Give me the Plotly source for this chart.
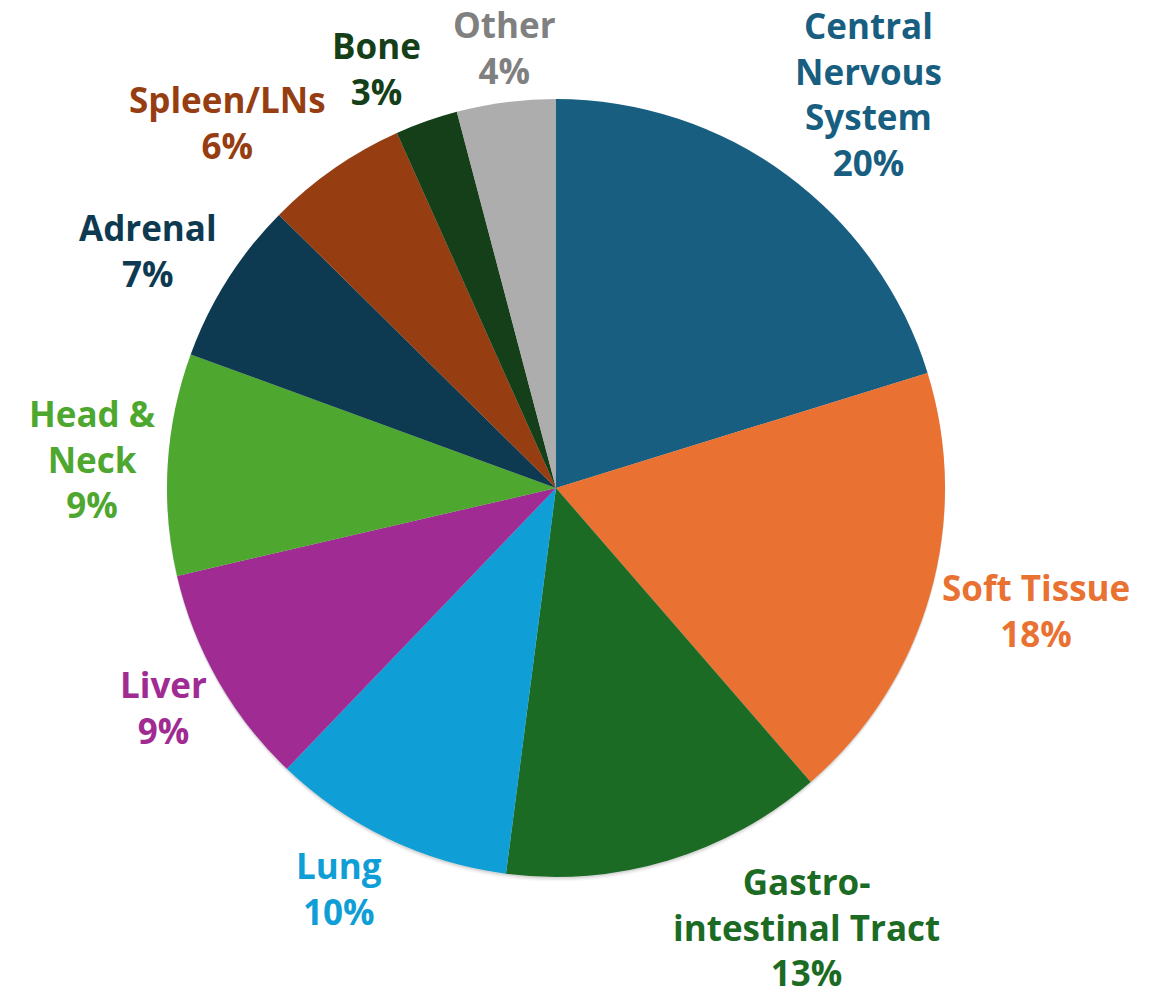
import math
import plotly.graph_objects as go

labels = ["Central Nervous System", "Soft Tissue", "Gastrointestinal Tract", "Lung", "Liver",
          "Head & Neck", "Adrenal", "Spleen/LNs", "Bone", "Other"]
display = ["Central<br>Nervous<br>System", "Soft Tissue", "Gastro-<br>intestinal Tract", "Lung", "Liver",
           "Head &<br>Neck", "Adrenal", "Spleen/LNs", "Bone", "Other"]
values = [20.2, 18.4, 13.4, 10.1, 9.2, 9.2, 6.8, 5.9, 2.6, 4.1]
colors = ["#175E80", "#E97132", "#1C6B25", "#109ED6", "#A02B93",
          "#4EA72E", "#0E3A51", "#963E12", "#143F18", "#ADADAD"]
text_colors = ["#175E80", "#E97132", "#1C6B25", "#109ED6", "#A02B93",
               "#4EA72E", "#0E3A51", "#963E12", "#143F18", "#808080"]

W, H = 1161, 995
cx, cy, r = 556, 488, 389   # pie centre / radius in page pixels
FS = 35
GAP = 10


def dom(x0, y0, rad):
    return dict(x=[(x0 - rad) / W, (x0 + rad) / W], y=[1 - (y0 + rad) / H, 1 - (y0 - rad) / H])


fig = go.Figure()

# soft drop shadow under the pie
for dy, a in [(4.5, 0.03), (3.0, 0.05), (1.5, 0.08)]:
    fig.add_trace(go.Pie(
        values=[sum(values)], labels=["shadow"], sort=False, textinfo="none",
        marker=dict(colors=[f"rgba(0,0,0,{a})"], line=dict(width=0)),
        showlegend=False, hoverinfo="skip", automargin=False,
        domain=dom(cx, cy + dy, r),
    ))

fig.add_trace(go.Pie(
    labels=labels,
    values=values,
    sort=False,
    direction="clockwise",
    rotation=0,
    textinfo="none",
    automargin=False,
    marker=dict(colors=colors, line=dict(width=0)),
    showlegend=False,
    hoverinfo="label+percent",
    domain=dom(cx, cy, r),
))

# outside labels, placed along each slice's mid-angle (derived from the values)
total = sum(values)
cum = 0.0
for lab, v, col in zip(display, values, text_colors):
    mid = (cum + v / 2) / total * 2 * math.pi
    cum += v
    ux, uy = math.sin(mid), -math.cos(mid)
    px = cx + (r + GAP) * ux
    py = cy + (r + GAP) * uy
    n_lines = lab.count("<br>") + 2
    h = n_lines * 1.3 * FS
    yc = py + uy * h / 2
    yc = min(max(yc, h / 2), H - h / 2)   # keep the label inside the page
    xanchor = "left" if ux > 0.25 else ("right" if ux < -0.25 else "center")
    pct = f"{round(v / total * 100)}%"
    fig.add_annotation(
        x=px / W, y=1 - yc / H, xref="paper", yref="paper",
        xanchor=xanchor, yanchor="middle", align="center",
        text=f"{lab}<br>{pct}", showarrow=False,
        font=dict(family="Open Sans", size=FS, color=col, weight="bold"),
    )

fig.update_layout(
    width=W, height=H,
    margin=dict(l=0, r=0, t=0, b=0, autoexpand=False),
    paper_bgcolor="white",
    plot_bgcolor="white",
)

fig.write_html("out.html", config={"displayModeBar": False},
               post_script="document.body.style.margin='0px';")
